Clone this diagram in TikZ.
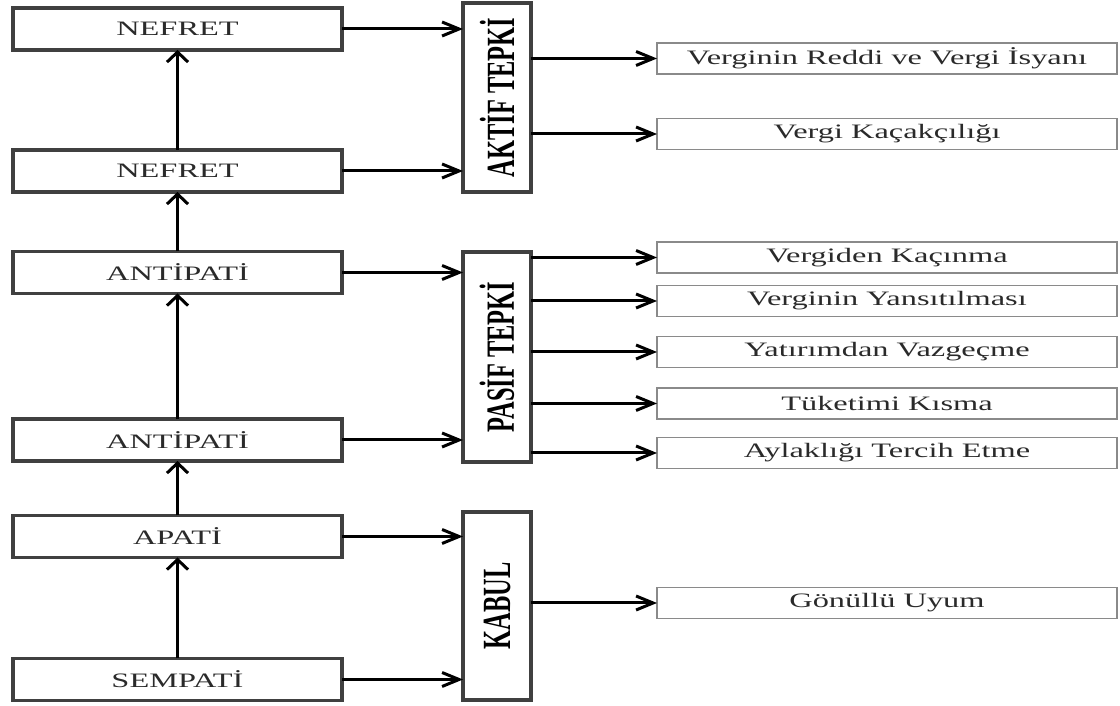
\documentclass[tikz,border=0pt]{standalone}
\usepackage{fontspec}
\setmainfont[FakeStretch=1.58]{Liberation Serif}
\newfontfamily\tallfont[FakeStretch=0.61]{Liberation Serif}
\usetikzlibrary{arrows.meta,positioning}
\definecolor{boxline}{HTML}{404040}
\definecolor{txtgray}{HTML}{2A2A2A}
\definecolor{thinline}{HTML}{8A8A8A}
\tikzset{
  feel/.style={draw=boxline,line width=3.5pt,outer sep=0pt,inner sep=0pt,
    minimum width=329pt,minimum height=42pt,
    font=\fontsize{20.5}{21}\selectfont,text=txtgray},
  react/.style={draw=boxline,line width=3.5pt,outer sep=0pt,inner sep=0pt,
    rotate=90,minimum height=68pt,
    font=\tallfont\bfseries\fontsize{40}{40}\selectfont},
  result/.style={draw=thinline,line width=1.3pt,outer sep=0pt,inner sep=0pt,
    minimum width=460pt,minimum height=31pt,
    font=\fontsize{20.5}{21}\selectfont,text=txtgray},
  flow/.style={-{Straight Barb[length=17pt,width=14pt]},line width=3pt},
  rise/.style={-{Straight Barb[length=10pt,width=21pt]},line width=3pt},
}
\begin{document}
\begin{tikzpicture}[x=1pt,y=1pt]
\useasboundingbox (0,0) rectangle (1120,706);
% feelings towards the tax
\node[feel] (n1) at (177.5,677) {NEFRET};
\node[feel,below=100pt of n1] (n2) {NEFRET};
\node[feel,below=59.5pt of n2] (a1) {ANTİPATİ};
\node[feel,below=125.5pt of a1] (a2) {ANTİPATİ};
\node[feel,below=54.5pt of a2] (ap) {APATİ};
\node[feel,below=101pt of ap] (s) {SEMPATİ};
\draw[rise] (s) -- (ap); \draw[rise] (ap) -- (a2); \draw[rise] (a2) -- (a1);
\draw[rise] (a1) -- (n2); \draw[rise] (n2) -- (n1);
% reactions
\node[react,minimum width=189pt] (akt) at (497,608.5) {AKTİF TEPKİ};
\node[react,minimum width=210pt] (pas) at (497,349) {PASİF TEPKİ};
\node[react,minimum width=188pt] (kab) at (497,100) {KABUL};
\draw[flow] (n1.east) -- (n1.east -| akt.north);
\draw[flow] (n2.east) -- (n2.east -| akt.north);
\draw[flow] (a1.east) -- (a1.east -| pas.north);
\draw[flow] (a2.east) -- (a2.east -| pas.north);
\draw[flow] (ap.east) -- (ap.east -| kab.north);
\draw[flow] (s.east) -- (s.east -| kab.north);
% results
\node[result] (r1) at (887,647.5) {Verginin Reddi ve Vergi İsyanı};
\node[result] (r2) at (887,572) {Vergi Kaçakçılığı};
\node[result] (p1) at (887,448.5) {Vergiden Kaçınma};
\node[result] (p2) at (887,405) {Verginin Yansıtılması};
\node[result] (p3) at (887,354) {Yatırımdan Vazgeçme};
\node[result] (p4) at (887,302.5) {Tüketimi Kısma};
\node[result] (p5) at (887,253) {Aylaklığı Tercih Etme};
\node[result] (g) at (887,103) {Gönüllü Uyum};
\draw[flow] (r1.west -| akt.south) -- (r1.west);
\draw[flow] (r2.west -| akt.south) -- (r2.west);
\draw[flow] (p1.west -| pas.south) -- (p1.west);
\draw[flow] (p2.west -| pas.south) -- (p2.west);
\draw[flow] (p3.west -| pas.south) -- (p3.west);
\draw[flow] (p4.west -| pas.south) -- (p4.west);
\draw[flow] (p5.west -| pas.south) -- (p5.west);
\draw[flow] (g.west -| kab.south) -- (g.west);
\end{tikzpicture}
\end{document}
